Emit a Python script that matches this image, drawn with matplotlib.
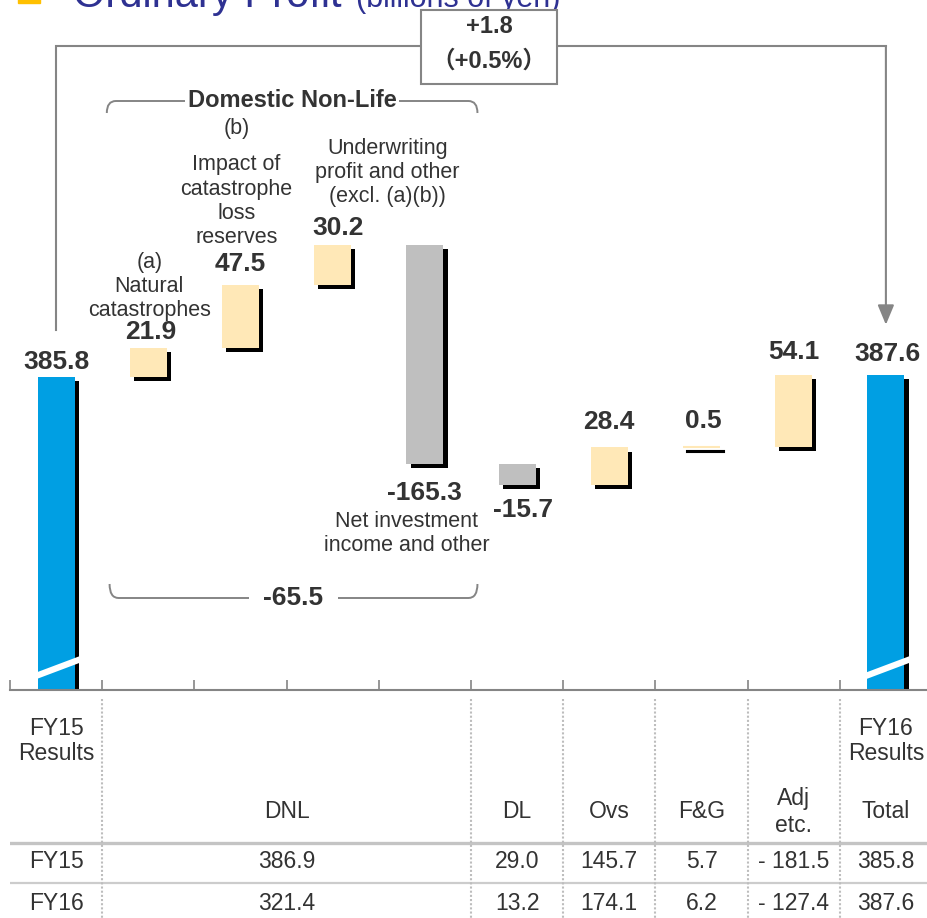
import numpy as np
import matplotlib
matplotlib.use('Agg')
import matplotlib.pyplot as plt
import matplotlib.patheffects as pe
from matplotlib.path import Path
from matplotlib.patches import PathPatch, Rectangle

plt.rcParams['font.family'] = ['Liberation Sans', 'DejaVu Sans']

# waterfall steps, billions of yen
steps = ['FY15 Results', 'Natural catastrophes', 'Catastrophe loss reserves',
         'Underwriting profit and other', 'Net investment income and other',
         'DL', 'Ovs', 'F&G', 'Adj etc.', 'FY16 Results']
changes = [385.8, 21.9, 47.5, 30.2, -165.3, -15.7, 28.4, 0.5, 54.1, 387.6]
kinds = ['total', 'step', 'step', 'step', 'step', 'step', 'step', 'step', 'step', 'total']
dnl_change = -65.5
total_change = 1.8
total_change_pct = 0.5

# breakdown table under the chart
table_cols = ['DNL', 'DL', 'Ovs', 'F&G', 'Adj\netc.', 'Total']
fy15_row = ['386.9', '29.0', '145.7', '5.7', '- 181.5', '385.8']
fy16_row = ['321.4', '13.2', '174.1', '6.2', '- 127.4', '387.6']

BLUE = '#009FE3'
PALE = '#FFE8B7'
GREY = '#BFBFBF'
TXT = '#333333'
LINE = '#858585'
NAVY = '#2E3192'

W, H = 928, 918
AX_PX = 690            # axis line, pixels from top
Y_LO, Y_HI = 150.0, 670.0
per_px = (Y_HI - Y_LO) / AX_PX
PT = 0.72              # points per pixel at dpi 100

fig = plt.figure(figsize=(W / 100, H / 100), dpi=100)
ax = fig.add_axes([10 / W, 1 - AX_PX / H, (W - 10) / W, AX_PX / H])
ax.patch.set_visible(False)
ax.set_xlim(0, (W - 10) / 92.2)
ax.set_ylim(Y_LO, Y_HI)


def ypx(p):
    # value sitting p pixels below the top of the figure
    return Y_HI - p * per_px


# build the floating bars
bottoms, heights, colors = [], [], []
running = 0.0
for v, k in zip(changes, kinds):
    if k == 'total':
        bottoms.append(Y_LO - 10)
        heights.append(v - (Y_LO - 10))
        colors.append(BLUE)
        running = v
    else:
        bottoms.append(running if v >= 0 else running + v)
        heights.append(abs(v))
        colors.append(PALE if v >= 0 else GREY)
        running += v

x = np.arange(len(changes)) + 0.5
bars = ax.bar(x, heights, 0.4, bottom=bottoms, color=colors, zorder=2)
for b, v in zip(bars, changes):
    if abs(v) < 2:
        b.set_edgecolor(PALE)
        b.set_linewidth(1.5)
        b.set_path_effects([pe.SimplePatchShadow(offset=(3, -3), shadow_rgbFace='k', alpha=1,
                                                 foreground='k', linewidth=1.5), pe.Normal()])
    else:
        b.set_path_effects([pe.SimplePatchShadow(offset=(3, -3), shadow_rgbFace='k', alpha=1),
                            pe.Normal()])

# axis break marks on the two total bars
for i, k in enumerate(kinds):
    if k == 'total':
        ax.plot([x[i] - 0.22, x[i] + 0.27], [ypx(676), ypx(659)], color='white',
                lw=4.5, solid_capstyle='butt', zorder=4)

# value labels
gaps = [3, 4, 9, 5, 17, 13, 13, 14, 11, 9]
dxs = [0, 2, 0, 5, 0, 6, 0, 2, 0, 2]
for i, v in enumerate(changes):
    lab = f'{v:.1f}'
    if v >= 0:
        ax.annotate(lab, (x[i], bottoms[i] + heights[i]), xytext=(dxs[i] * PT, gaps[i] * PT),
                    textcoords='offset points', ha='center', va='bottom',
                    fontsize=19, fontweight='bold', color=TXT)
    else:
        ax.annotate(lab, (x[i], bottoms[i]), xytext=(dxs[i] * PT, -gaps[i] * PT),
                    textcoords='offset points', ha='center', va='top',
                    fontsize=19, fontweight='bold', color=TXT)

desc = dict(fontsize=15.5, color=TXT, ha='center', linespacing=1.2,
            textcoords='offset points')
top = [b + h for b, h in zip(bottoms, heights)]
ax.annotate('(a)\nNatural\ncatastrophes', (x[1], top[1]), xytext=(1 * PT, 27 * PT),
            va='bottom', **desc)
ax.annotate('Impact of\ncatastrophe\nloss\nreserves', (x[2], top[2]), xytext=(-4 * PT, 37 * PT),
            va='bottom', **desc)
ax.annotate('(b)', (x[2], top[2]), xytext=(-4 * PT, 146 * PT), va='bottom', **desc)
ax.annotate('Underwriting\nprofit and other\n(excl. (a)(b))', (x[3], top[3]),
            xytext=(55 * PT, 38 * PT), va='bottom', **desc)
ax.annotate('Net investment\nincome and other', (x[4], bottoms[4]), xytext=(-18 * PT, -47 * PT),
            va='top', **desc)


def bracket(x0, x1, y, y_end, label, pad):
    rx = 9 / 92.2
    verts = [(x0, y_end), (x0, y), (x0 + rx, y), (x1 - rx, y), (x1, y), (x1, y_end)]
    codes = [Path.MOVETO, Path.CURVE3, Path.CURVE3, Path.LINETO, Path.CURVE3, Path.CURVE3]
    ax.add_patch(PathPatch(Path(verts, codes), fill=False, edgecolor=LINE, lw=1.4,
                           zorder=3, clip_on=False))
    ax.text((x0 + x1) / 2, y, label, ha='center', va='center', fontsize=17 if pad < 0.3 else 19,
            fontweight='bold', color=TXT, zorder=5,
            bbox=dict(boxstyle=f'square,pad={pad}', facecolor='white', edgecolor='none'))


bracket(1.05, 5.07, ypx(101), ypx(113), 'Domestic Non-Life', 0.12)
bracket(1.08, 5.07, ypx(598), ypx(584), f'{dnl_change:.1f}', 0.55)

# FY15 -> FY16 connector with the overall change
y_top = ypx(46)
ax.plot([x[0], x[0], x[-1]], [top[0] + 47 * per_px, y_top, y_top], color=LINE, lw=1.5,
        zorder=3, solid_joinstyle='miter')
ax.annotate('', xy=(x[-1], top[-1] + 50 * per_px), xytext=(x[-1], y_top),
            arrowprops=dict(arrowstyle='-|>,head_length=1.2,head_width=0.5', color=LINE,
                            lw=1.5, shrinkA=0, shrinkB=0), zorder=3)
bx0, bx1 = (421 - 10) / 92.2, (557 - 10) / 92.2
ax.add_patch(Rectangle((bx0, ypx(84)), bx1 - bx0, 74 * per_px, facecolor='white',
                       edgecolor=LINE, lw=1.5, zorder=4, clip_on=False))
ax.text((bx0 + bx1) / 2, ypx(27), f'+{total_change:.1f}', ha='center', va='center',
        fontsize=17, fontweight='bold', color=TXT, zorder=5)
ax.text((bx0 + bx1) / 2, ypx(61), f'\uff08+{total_change_pct:.1f}%\uff09', ha='center',
        va='center', fontsize=17, fontweight='bold', color=TXT, zorder=5,
        family=['Liberation Sans', 'Noto Sans CJK JP'])

for s in ['top', 'left', 'right']:
    ax.spines[s].set_visible(False)
ax.spines['bottom'].set_color(LINE)
ax.spines['bottom'].set_linewidth(1.5)
ax.set_yticks([])
ax.set_xticks(np.arange(0, 10))
ax.tick_params(axis='x', direction='in', length=7, width=1.2, color=LINE, labelbottom=False)

# title, mostly above the top edge; the change box sits over it
fig.text(73 / W, 1 - 7 / H, 'Ordinary Profit', fontsize=30, color=NAVY, va='baseline',
         zorder=-1)
fig.text(356 / W, 1 - 7 / H, '(billions of yen)', fontsize=22, color=NAVY, va='baseline',
         zorder=-1)
fig.patches.append(Rectangle((18 / W, 1 - 3 / H), 22 / W, 20 / H, color='#FFC000',
                             transform=fig.transFigure, figure=fig))

# table
tb = fig.add_axes([10 / W, 0, (W - 10) / W, (H - AX_PX) / H])
tb.set_xlim(0, (W - 10) / 92.2)
tb.set_ylim(H - AX_PX, 0)
tb.axis('off')
tb.axhline(153, color='#C4C4C4', lw=2.4)
tb.axhline(193, color='#CCCCCC', lw=1.6)
for xv in [1, 5, 6, 7, 8, 9]:
    tb.plot([xv, xv], [9, H - AX_PX], color='#BDBDBD', lw=1.5, ls=(0, (1, 1)))

cell = dict(fontsize=16.5, color=TXT, ha='center', va='center', linespacing=1.1)
tb.text(0.5, 51, 'FY15\nResults', **cell)
tb.text(9.5, 51, 'FY16\nResults', **cell)
col_x = [3.0, 5.5, 6.5, 7.5, 8.5, 9.5]
for cx, name in zip(col_x, table_cols):
    tb.text(cx, 122, name, **{**cell, 'linespacing': 1.25})
tb.text(0.5, 172, 'FY15', **cell)
tb.text(0.5, 213, 'FY16', **cell)
for cx, a, b in zip(col_x, fy15_row, fy16_row):
    tb.text(cx, 172, a, **cell)
    tb.text(cx, 213, b, **cell)

fig.savefig('out.png', dpi=100)
